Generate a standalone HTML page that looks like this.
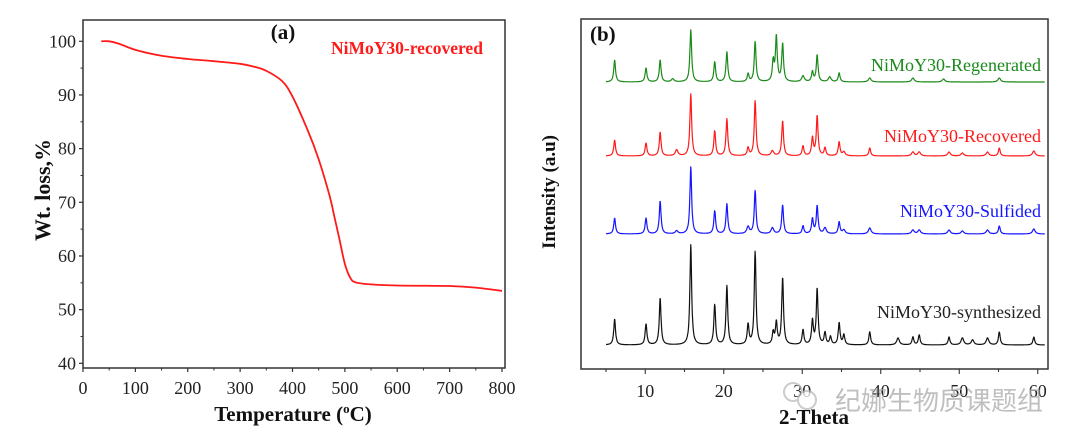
<!DOCTYPE html>
<html><head><meta charset="utf-8">
<style>
html,body{margin:0;padding:0;background:#fff;}
svg{display:block;font-family:"Liberation Serif",serif;}
</style></head>
<body>
<svg id="fig" width="1080" height="446" viewBox="0 0 1080 446">
<g id="pa"></g>
<g id="pb"></g>
<g opacity="0.75">
  <circle cx="793" cy="392" r="9" fill="none" stroke="#bbb" stroke-width="2"/>
  <circle cx="807" cy="400" r="9" fill="#fff" stroke="#bbb" stroke-width="2"/>
  <text x="835" y="410" font-family="'Liberation Sans','Noto Sans CJK SC',sans-serif" font-size="26" fill="#aaa">纪娜生物质课题组</text>
</g>
</svg>
<script>
// ---- Panel (a) data: TGA ----
const tgaTemp = [35,50,70,100,150,200,250,300,330,350,380,400,430,450,470,480,490,500,510,520,550,600,700,750,800];
const tgaWt   = [100,100,99.5,98.4,97.3,96.7,96.3,95.8,95.2,94.5,92.6,89.7,83.2,78.0,71.5,67.3,63,58.5,56.0,55.1,54.7,54.5,54.4,54.1,53.5];
const tgaXTicks = [0,100,200,300,400,500,600,700,800];
const tgaYTicks = [40,50,60,70,80,90,100];

// ---- Panel (b) data: XRD peaks ----
const xrdXTicks = [10,20,30,40,50,60];
const synthPos = [6.1,10.1,11.9,15.8,18.85,20.4,23.1,24.0,26.3,26.7,27.5,30.1,31.3,31.9,32.9,33.6,34.7,35.3,38.6,42.2,44.1,44.9,48.7,50.4,51.7,53.6,55.1,59.5];
const synthH   = [26,21,47,100,40,59,20,93,12,22,67,15,24,56,12,8,22,10,13,7,8,10,8,7,5,7,13,8];
const sulfPos  = [6.1,10.1,11.9,14,15.8,18.85,20.4,23.1,24.0,26.2,27.5,30.1,31.3,31.9,32.9,34.7,35.3,38.6,44.1,44.9,48.7,50.4,53.6,55.1,59.5];
const sulfH    = [16,16,33,3,67,23,30,7,43,6,29,8,15,28,6,12,4,6,4,4,4,3,4,8,5];
const recPos   = [6.1,10.1,11.9,14,15.8,18.85,20.4,23.1,24.0,26.2,27.5,30.1,31.3,31.9,32.9,34.7,35.3,38.6,44.1,44.9,48.7,50.4,53.6,55.1,59.5];
const recH     = [16,13,24,6,62,25,37,8,55,5,35,10,18,40,8,14,4,8,4,4,4,3,4,8,5];
const regPos   = [6.1,10.1,11.9,13.5,15.8,18.85,20.4,23.1,24.0,26.3,26.7,27.5,30.1,31.3,31.9,33.5,34.7,38.6,44.1,48,55.1];
const regH     = [22,14,22,3,52,20,30,8,40,20,45,38,6,10,27,5,9,4,4,3,4];

const NS='http://www.w3.org/2000/svg';
function mk(parent,tag,attrs,text){const e=document.createElementNS(NS,tag);for(const k in attrs)e.setAttribute(k,attrs[k]);if(text!==undefined)e.textContent=text;parent.appendChild(e);return e;}

// ===== Panel A =====
const pa=document.getElementById('pa');
const ax={l:83,r:502,t:20,b:368};
const xA=t=>ax.l+t*(ax.r-ax.l)/800;
const yA=w=>41.3+(100-w)*5.367;
let box=mk(pa,'rect',{x:83,y:20,width:422,height:348,fill:'none',stroke:'#333','stroke-width':1.5});


tgaXTicks.forEach((t,i)=>{
  const x=xA(t);
  mk(pa,'line',{x1:x,x2:x,y1:368,y2:372,stroke:'#333','stroke-width':1.2});
  if(i<tgaXTicks.length-1){const xm=xA(t+50);mk(pa,'line',{x1:xm,x2:xm,y1:368,y2:370.5,stroke:'#333','stroke-width':1});}
  const tx=mk(pa,'text',{x:x,y:394,'font-size':18,'text-anchor':'middle',fill:'#222'},String(t));
  
  
});
tgaYTicks.forEach((w,i)=>{
  const y=yA(w);
  mk(pa,'line',{x1:79,x2:83,y1:y,y2:y,stroke:'#333','stroke-width':1.2});
  if(i<tgaYTicks.length-1){const ym=yA(w+5);mk(pa,'line',{x1:80.5,x2:83,y1:ym,y2:ym,stroke:'#333','stroke-width':1});}
  const tx=mk(pa,'text',{x:76,y:y+6,'font-size':18,'text-anchor':'end',fill:'#222'},String(w));
  
  
});
// smooth Catmull-Rom path
const P=tgaTemp.map((t,i)=>[xA(t),yA(tgaWt[i])]);
let d='M'+P[0][0].toFixed(1)+','+P[0][1].toFixed(1);
for(let i=0;i<P.length-1;i++){
  const p0=P[Math.max(0,i-1)],p1=P[i],p2=P[i+1],p3=P[Math.min(P.length-1,i+2)];
  const c1=[p1[0]+(p2[0]-p0[0])/6,p1[1]+(p2[1]-p0[1])/6];
  const c2=[p2[0]-(p3[0]-p1[0])/6,p2[1]-(p3[1]-p1[1])/6];
  d+='C'+c1[0].toFixed(1)+','+c1[1].toFixed(1)+' '+c2[0].toFixed(1)+','+c2[1].toFixed(1)+' '+p2[0].toFixed(1)+','+p2[1].toFixed(1);
}
let ln=mk(pa,'path',{d:d,fill:'none',stroke:'#ff1a1a','stroke-width':1.8,'stroke-linejoin':'round'});


let t1=mk(pa,'text',{x:283,y:39,'font-size':21,'font-weight':'bold','text-anchor':'middle',fill:'#111'},'(a)');


let t2=mk(pa,'text',{x:331,y:54,'font-size':17.5,'font-weight':'bold',fill:'#ff1a1a'},'NiMoY30-recovered');


let t3=mk(pa,'text',{x:0,y:0,'font-size':22,'font-weight':'bold','text-anchor':'middle',fill:'#111',transform:'translate(50,190) rotate(-90)'},'Wt. loss,%');


let t4=mk(pa,'text',{x:293,y:421,'font-size':21,'font-weight':'bold','text-anchor':'middle',fill:'#111'},'');


t4.appendChild(document.createTextNode('Temperature ('));
mk(t4,'tspan',{dy:-8,'font-size':13},'o');
mk(t4,'tspan',{dy:8},'C)');

// ===== Panel B =====
const pb=document.getElementById('pb');
const xB=th=>606+(th-5)*7.85;
box=mk(pb,'rect',{x:581,y:19,width:467,height:350,fill:'none',stroke:'#333','stroke-width':1.5});


for(let th=5;th<=60;th+=5){const x=xB(th);mk(pb,'line',{x1:x,x2:x,y1:369,y2:(th%10===0)?374:372,stroke:'#333','stroke-width':1.1});}
xrdXTicks.forEach(th=>{
  const tx=mk(pb,'text',{x:xB(th),y:397,'font-size':18,'text-anchor':'middle',fill:'#222'},String(th));
  
  
});
function pattern(pos,h,base,scale,color,name){
  let dd='';
  for(let th=5;th<=60.9;th+=0.04){
    let s=0;
    pos.forEach((p,i)=>{const w=(h[i]<8)?0.25:0.17;const u=(th-p)/w;s+=h[i]/(1+u*u*1.6);});
    dd+=(th===5?'M':'L')+xB(th).toFixed(1)+','+(base-s*scale).toFixed(1);
  }
  const e=mk(pb,'path',{d:dd,fill:'none',stroke:color,'stroke-width':1.2,'stroke-linejoin':'round'});
  
  
}
pattern(synthPos,synthH,345,1,'#111','series-synthesized');
pattern(sulfPos,sulfH,234,1,'#1515ff','series-sulfided');
pattern(recPos,recH,156,1,'#ff1a1a','series-recovered');
pattern(regPos,regH,82,1,'#1a8a1a','series-regenerated');
const labs=[['NiMoY30-Regenerated',71,'#1a8a1a'],['NiMoY30-Recovered',142,'#ff1a1a'],['NiMoY30-Sulfided',217,'#1515ff'],['NiMoY30-synthesized',318,'#222']];
labs.forEach(l=>{
  const tx=mk(pb,'text',{x:1041,y:l[1],'font-size':18,'text-anchor':'end',fill:l[2]},l[0]);
  
  
});
t1=mk(pb,'text',{x:590,y:41,'font-size':21,'font-weight':'bold',fill:'#111'},'(b)');


t3=mk(pb,'text',{x:0,y:0,'font-size':19,'font-weight':'bold','text-anchor':'middle',fill:'#111',transform:'translate(555,192) rotate(-90)'},'Intensity (a.u)');


t4=mk(pb,'text',{x:814,y:424,'font-size':21,'font-weight':'bold','text-anchor':'middle',fill:'#111'},'2-Theta');


</script>
</body></html>
